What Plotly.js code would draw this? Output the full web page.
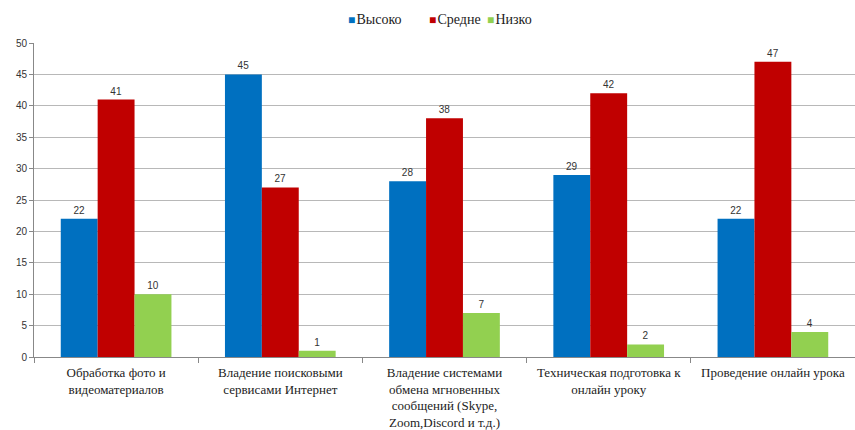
<!DOCTYPE html>
<html><head><meta charset="utf-8">
<script src="https://cdn.plot.ly/plotly-3.0.1.min.js"></script>
<style>html,body{margin:0;padding:0;background:#fff}#chart{width:855px;height:430px}</style>
</head><body><div id="chart"></div>
<script>
const categories = [
  "Обработка фото и<br>видеоматериалов",
  "Владение поисковыми<br>сервисами Интернет",
  "Владение системами<br>обмена мгновенных<br>сообщений (Skype,<br>Zoom,Discord и т.д.)",
  "Техническая подготовка к<br>онлайн уроку",
  "Проведение онлайн урока"
];
const seriesNames = ["Высоко", "Средне", "Низко"];
const high = [22, 45, 28, 29, 22];
const mid = [41, 27, 38, 42, 47];
const low = [10, 1, 7, 2, 4];
const colors = ["#0070C0", "#C00000", "#92D050"];

const serif = "Liberation Serif, 'DejaVu Serif', serif";
const sans = "Liberation Sans, Arial, sans-serif";

const traces = [high, mid, low].map((vals, i) => ({
  type: "bar",
  name: seriesNames[i],
  x: categories,
  y: vals,
  marker: {color: colors[i]},
  text: vals.map(String),
  textposition: "outside",
  textangle: 0,
  cliponaxis: false,
  textfont: {family: sans, size: 10, color: "#333"}
}));

// legend drawn as text annotations (colored square + series name)
const legendX = [346, 427, 485];
const annotations = seriesNames.map((name, i) => ({
  xref: "paper", yref: "paper",
  x: (legendX[i] - 34) / 821, y: 1 + (43 - 19) / 314,
  xanchor: "left", yanchor: "middle",
  showarrow: false,
  text: "<span style='color:" + colors[i] + ";font-size:12px'>■</span>&#8202;" + name,
  font: {family: serif, size: 14, color: "#222"}
}));

const layout = {
  width: 855, height: 430,
  margin: {l: 34, r: 0, t: 43, b: 73},
  barmode: "group",
  bargap: 0.326,
  bargroupgap: 0,
  paper_bgcolor: "#fff",
  plot_bgcolor: "#fff",
  showlegend: false,
  annotations: annotations,
  xaxis: {
    type: "category",
    tickson: "boundaries",
    ticks: "outside", ticklen: 5, tickcolor: "#888",
    showline: true, linecolor: "#888", linewidth: 1,
    showgrid: false,
    ticklabelstandoff: 3,
    tickfont: {family: serif, size: 13, color: "#222"},
    tickangle: 0
  },
  yaxis: {
    range: [0, 50], dtick: 5,
    ticks: "outside", ticklen: 4, tickcolor: "#888",
    showline: true, linecolor: "#888", linewidth: 1,
    showgrid: true, gridcolor: "#b8b8b8", gridwidth: 1,
    zeroline: false,
    tickfont: {family: sans, size: 10, color: "#333"}
  }
};

Plotly.newPlot("chart", traces, layout, {displayModeBar: false, staticPlot: true});
</script></body></html>
